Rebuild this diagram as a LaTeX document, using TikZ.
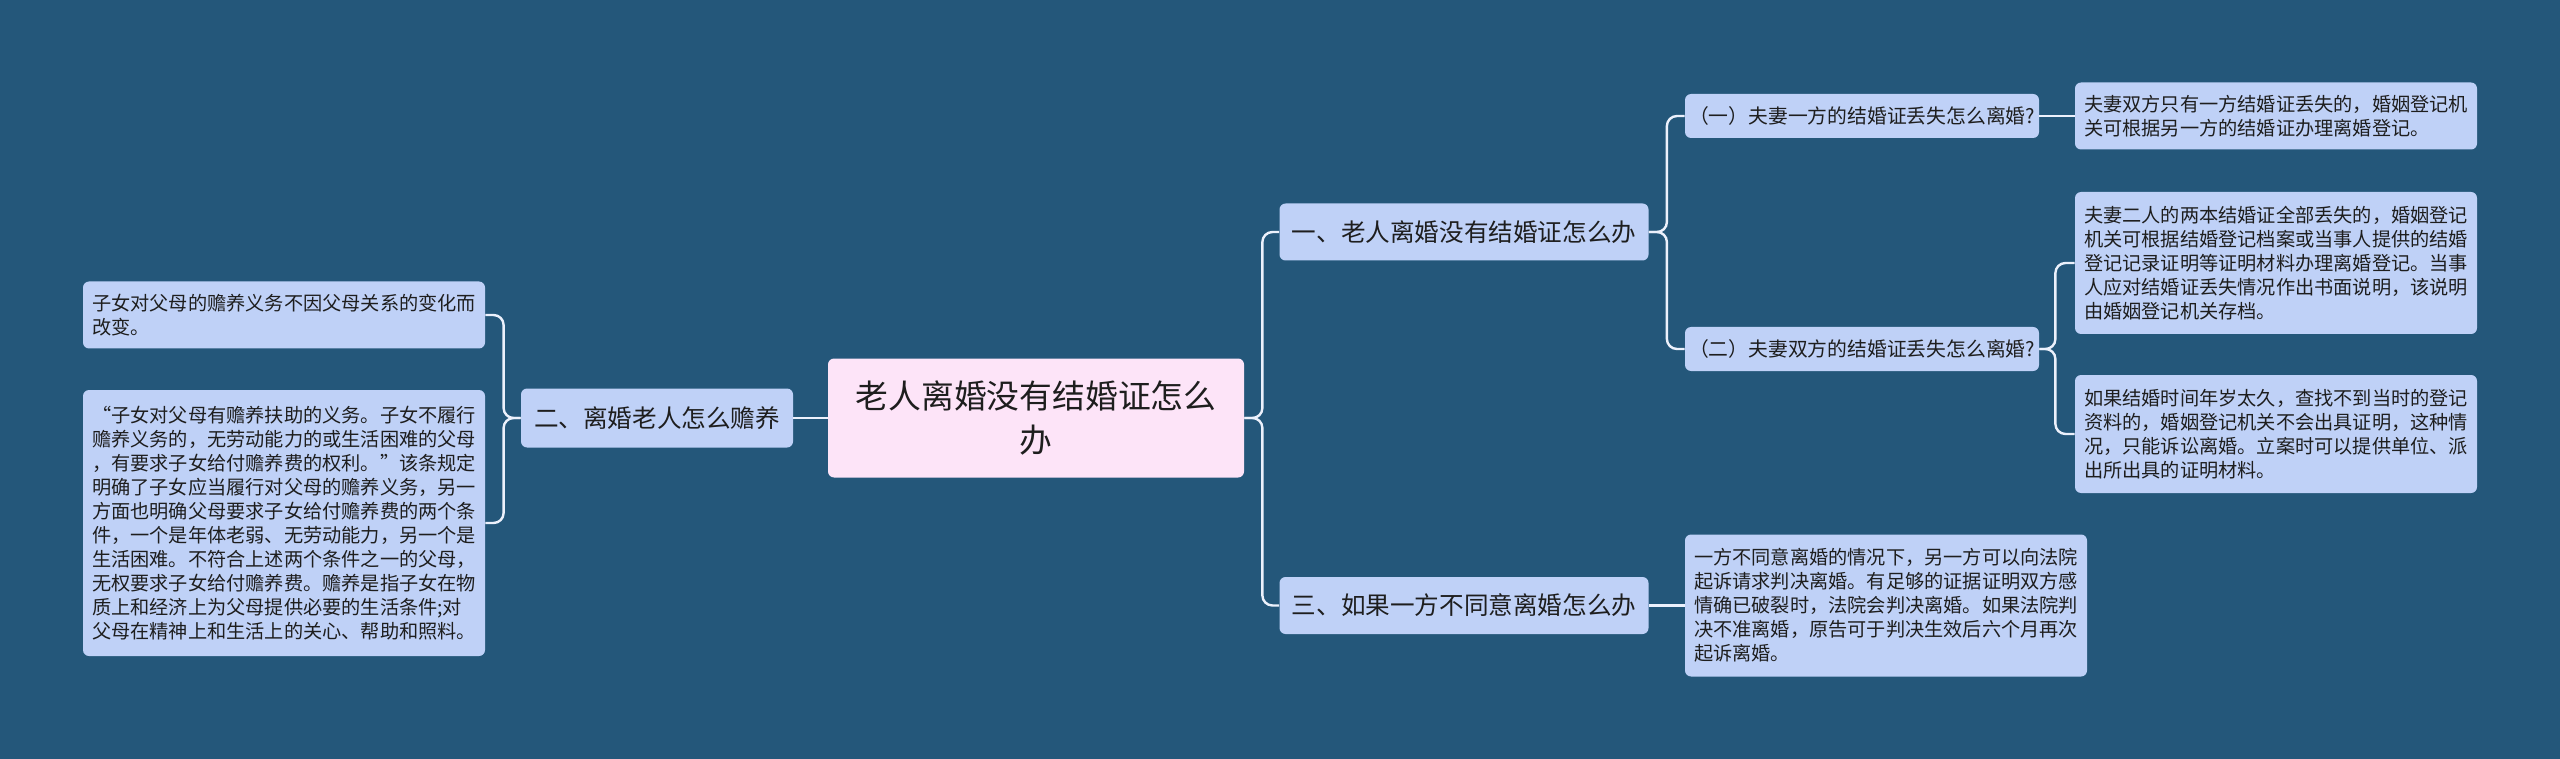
\documentclass[tikz,border=0pt]{standalone}
\usepackage{fontspec}
\setmainfont{Noto Sans CJK SC}
\usepackage{tikz}
\usetikzlibrary{positioning}
\definecolor{bgblue}{RGB}{36,87,122}
\definecolor{boxblue}{RGB}{191,209,247}
\definecolor{rootpink}{RGB}{253,228,248}
\definecolor{linkwhite}{RGB}{236,241,252}
\definecolor{inkdark}{RGB}{30,30,30}

\begin{document}
\begin{tikzpicture}[x=0.5pt, y=-0.5pt,
  box/.style={fill=boxblue, rounded corners=3pt, text=inkdark, inner sep=0pt},
  leaf/.style={box, font=\fontsize{9.6}{12}\selectfont, text width=192pt, align=left, minimum width=201pt},
  branch/.style={box, font=\fontsize{12.3}{15}\selectfont, align=center, minimum width=184.5pt, minimum height=28.5pt},
  sub/.style={box, font=\fontsize{9.9}{12}\selectfont, align=center, minimum width=177pt, minimum height=22pt},
  link/.style={draw=linkwhite, line width=1.2pt, rounded corners=5pt}]
  \fill[bgblue] (0,0) rectangle (2560,759);
  \useasboundingbox (0,0) rectangle (2560,759);
  % centre
  \node[box, fill=rootpink, font=\fontsize{16.4}{22}\selectfont, align=center,
        minimum width=208pt, minimum height=59.5pt] (root) at (1036,418)
        {老人离婚没有结婚证怎么\\办};
  % left side
  \node[box, font=\fontsize{12.3}{15}\selectfont, minimum width=136pt, minimum height=29.5pt]
        (left) at (657,418) {二、离婚老人怎么赡养};
  \node[leaf, minimum height=33.5pt] (leftA) at (284,315)
        {子女对父母的赡养义务不因父母关系的变化而\\改变。};
  \node[leaf, minimum height=133pt] (leftB) at (284,523)
        {“子女对父母有赡养扶助的义务。子女不履行\\
         赡养义务的，无劳动能力的或生活困难的父母\\
         ，有要求子女给付赡养费的权利。”该条规定\\
         明确了子女应当履行对父母的赡养义务，另一\\
         方面也明确父母要求子女给付赡养费的两个条\\
         件，一个是年体老弱、无劳动能力，另一个是\\
         生活困难。不符合上述两个条件之一的父母，\\
         无权要求子女给付赡养费。赡养是指子女在物\\
         质上和经济上为父母提供必要的生活条件;对\\
         父母在精神上和生活上的关心、帮助和照料。};
  % right side
  \node[branch] (one) at (1464,232) {一、老人离婚没有结婚证怎么办};
  \node[branch] (three) at (1464,605.5) {三、如果一方不同意离婚怎么办};
  \node[sub] (oneA) at (1862,116) {（一）夫妻一方的结婚证丢失怎么离婚?};
  \node[sub] (oneB) at (1862,349) {（二）夫妻双方的结婚证丢失怎么离婚?};
  \node[leaf, minimum height=33.5pt] (oneAtext) at (2276,116)
        {夫妻双方只有一方结婚证丢失的，婚姻登记机\\关可根据另一方的结婚证办理离婚登记。};
  \node[leaf, minimum height=71pt] (oneBtext1) at (2276,263)
        {夫妻二人的两本结婚证全部丢失的，婚姻登记\\
         机关可根据结婚登记档案或当事人提供的结婚\\
         登记记录证明等证明材料办理离婚登记。当事\\
         人应对结婚证丢失情况作出书面说明，该说明\\
         由婚姻登记机关存档。};
  \node[leaf, minimum height=59pt] (oneBtext2) at (2276,434)
        {如果结婚时间年岁太久，查找不到当时的登记\\
         资料的，婚姻登记机关不会出具证明，这种情\\
         况，只能诉讼离婚。立案时可以提供单位、派\\
         出所出具的证明材料。};
  \node[leaf, minimum height=71pt] (threetext) at (1886,605.5)
        {一方不同意离婚的情况下，另一方可以向法院\\
         起诉请求判决离婚。有足够的证据证明双方感\\
         情确已破裂时，法院会判决离婚。如果法院判\\
         决不准离婚，原告可于判决生效后六个月再次\\
         起诉离婚。};
  % connectors
  \coordinate (lbend) at ([xshift=-8.5pt]left.west);
  \coordinate (rbend) at ([xshift=9pt]root.east);
  \coordinate (onebend) at ([xshift=9pt]one.east);
  \coordinate (twobend) at ([xshift=8pt]oneB.east);
  \draw[link] (root.west) -- (left.east);
  \foreach \n in {leftA,leftB} { \draw[link] (left.west) -- (lbend) |- (\n.east); }
  \foreach \n in {one,three} { \draw[link] (root.east) -- (rbend) |- (\n.west); }
  \foreach \n in {oneA,oneB} { \draw[link] (one.east) -- (onebend) |- (\n.west); }
  \foreach \n in {oneBtext1,oneBtext2} { \draw[link] (oneB.east) -- (twobend) |- (\n.west); }
  \draw[link] (oneA.east) -- (oneAtext.west);
  \draw[link] (three.east) -- (threetext.west);
\end{tikzpicture}
\end{document}
